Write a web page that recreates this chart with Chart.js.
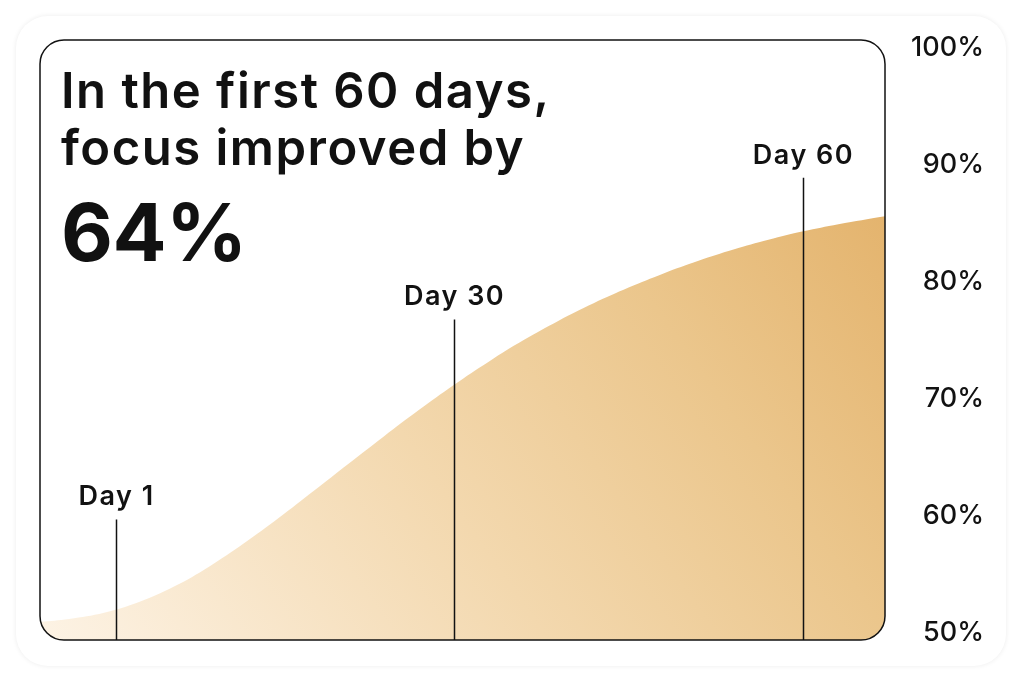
<!DOCTYPE html>
<html>
<head>
<meta charset="utf-8">
<script src="https://cdn.jsdelivr.net/npm/chart.js@4"></script>
<style>
html, body { margin: 0; padding: 0; background: #fff; width: 1024px; height: 681px; overflow: hidden; font-family: Inter, sans-serif; }
.card { position: absolute; left: 16px; top: 16px; width: 990px; height: 650px; border-radius: 32px; background: #fff; box-shadow: 0 0 5px rgba(0,0,0,0.08); }
#chart { position: absolute; left: 0; top: 0; }
.headline { position: absolute; left: 61px; color: #111; white-space: nowrap; }
.lead { top: 62px; font-size: 49px; line-height: 57px; font-weight: 600; letter-spacing: 1.5px; }
.big { top: 191px; font-size: 80px; line-height: 82px; font-weight: 700; letter-spacing: -0.5px; }
</style>
</head>
<body>
<div class="card"></div>
<canvas id="chart" width="1024" height="681"></canvas>
<div class="headline lead">In the first 60 days,<br>focus improved by</div>
<div class="headline big">64%</div>
<script>
'use strict'

// focus level (%) along the timeline, day numbers on x
const days = [-5.5, -3, 0, 3, 6, 9, 12, 15, 18, 21, 24, 27, 30, 33, 36, 39, 42, 45, 48, 51, 54, 57, 60, 63, 67];
const focus = [50.95, 51.2, 51.73, 52.65, 53.97, 55.67, 57.66, 59.84, 62.15, 64.49, 66.8, 69.05, 71.2,
  73.19, 75.03, 76.69, 78.18, 79.52, 80.73, 81.81, 82.77, 83.61, 84.33, 84.94, 85.62];
const yTicks = [50, 60, 70, 80, 90, 100];

// the day markers and how high their stems reach (in %)
const markerDays = [1, 30, 60];
const markerLabels = ['Day 1', 'Day 30', 'Day 60'];
const markerTops = [59.7, 76.8, 88.9];

const ink = '#121212';

// rounded box round the plot, fill clipped to it, day markers on top
const boxPlugin = {
  id: 'box',
  beforeDatasetsDraw(chart) {
    const a = chart.chartArea, c = chart.ctx;
    c.save();
    c.beginPath();
    c.roundRect(a.left, a.top, a.right - a.left, a.bottom - a.top, 24);
    c.clip();
  },
  afterDatasetsDraw(chart) {
    const a = chart.chartArea, c = chart.ctx;
    c.restore();
    const xs = chart.scales.x, ys = chart.scales.y;

    c.save();
    c.strokeStyle = ink;
    c.lineWidth = 1.5;
    c.fillStyle = ink;
    c.font = '600 27px Inter';
    c.letterSpacing = '1.5px';
    c.textAlign = 'center';
    c.textBaseline = 'alphabetic';
    markerDays.forEach((d, i) => {
      const x = Math.round(xs.getPixelForValue(d)) + 0.5;
      const top = ys.getPixelForValue(markerTops[i]);
      c.beginPath();
      c.moveTo(x, a.bottom);
      c.lineTo(x, top);
      c.stroke();
      c.fillText(markerLabels[i], x, top - 14);
    });

    c.beginPath();
    c.roundRect(a.left, a.top, a.right - a.left, a.bottom - a.top, 24);
    c.stroke();
    c.restore();
  }
};

const ctx = document.getElementById('chart');

const chart = new Chart(ctx, {
  type: 'line',
  data: {
    datasets: [{
      label: 'Focus',
      data: days.map((d, i) => ({ x: d, y: focus[i] })),
      fill: 'start',
      borderWidth: 0,
      pointRadius: 0,
      tension: 0.4,
      backgroundColor(context) {
        const area = context.chart.chartArea;
        if (!area) return 'rgba(0,0,0,0)';
        const g = context.chart.ctx.createLinearGradient(area.left, area.bottom, area.right, area.top);
        g.addColorStop(0, '#fdf3e5');
        g.addColorStop(0.4, '#f3d8ae');
        g.addColorStop(0.67, '#ebc68c');
        g.addColorStop(0.9, '#e4b46e');
        g.addColorStop(1, '#e2ae64');
        return g;
      }
    }]
  },
  options: {
    responsive: false,
    animation: false,
    layout: { padding: { left: 40, top: 40, right: 40, bottom: 41 } },
    plugins: {
      legend: { display: false },
      tooltip: { enabled: false }
    },
    scales: {
      x: { type: 'linear', min: -5.5, max: 67, display: false },
      y: {
        position: 'right',
        min: 49.4,
        max: 100.68,
        afterBuildTicks(s) { s.ticks = yTicks.map(v => ({ value: v })); },
        afterFit(s) { s.width = 99; s.paddingTop = 0; s.paddingBottom = 0; },
        grid: { display: false },
        border: { display: false },
        ticks: {
          crossAlign: 'far',
          padding: 30,
          color: ink,
          font: { family: 'Inter', size: 27, weight: 500 },
          callback: v => v + '%'
        }
      }
    }
  },
  plugins: [boxPlugin]
});
</script>
</body>
</html>
